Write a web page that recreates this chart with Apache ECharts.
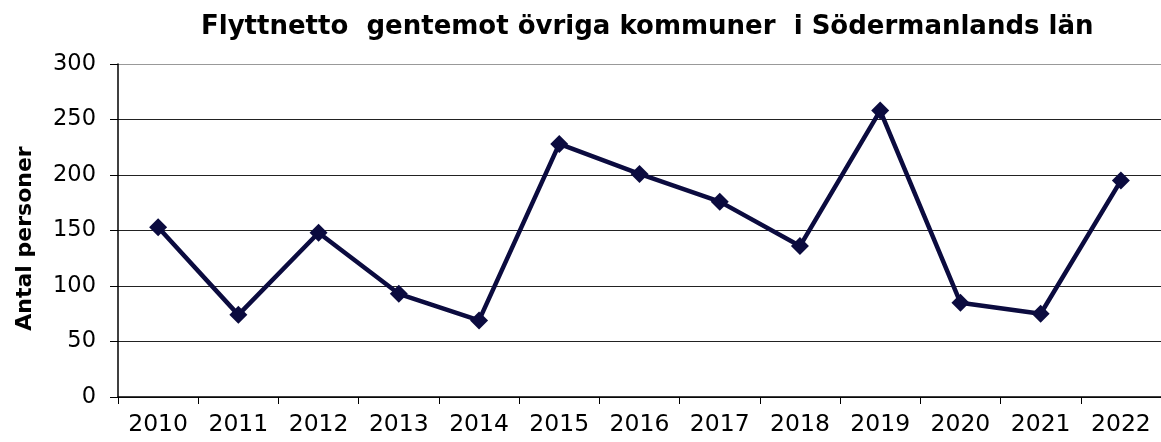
<!DOCTYPE html>
<html style="height: 100%;">
   <head>
       <meta charset="utf-8">
   </head>
   <body style="height: 100%; margin: 0; background-color: #fff;">
       <div id="container" style="width: 1161px; height: 442px;"></div>

       <script type="text/javascript" src="https://cdn.jsdelivr.net/npm/echarts@6/dist/echarts.min.js"></script>
       <script type="text/javascript">
var years = ['2010', '2011', '2012', '2013', '2014', '2015', '2016', '2017', '2018', '2019', '2020', '2021', '2022'];
var flyttnetto = [153, 74, 148, 93, 69, 228, 201, 176, 136, 258, 85, 75, 195];
var yTicks = [0, 50, 100, 150, 200, 250, 300];

var dom = document.getElementById("container");
var myChart = echarts.init(dom);
var option = {
    animation: false,
    title: {
        text: 'Flyttnetto  gentemot övriga kommuner  i Södermanlands län',
        left: 196,
        top: 9,
        textStyle: {
            color: '#000',
            fontFamily: 'DejaVu Sans',
            fontWeight: 'bold',
            fontSize: 26
        }
    },
    grid: {
        left: 118,
        top: 64,
        width: 1048,
        height: 333
    },
    xAxis: {
        type: 'category',
        data: years,
        boundaryGap: true,
        axisLine: { lineStyle: { color: '#000', width: 1.5 } },
        axisTick: { show: true, length: 7, lineStyle: { color: '#000' } },
        axisLabel: {
            color: '#000',
            fontFamily: 'DejaVu Sans',
            fontSize: 23.5,
            margin: 16
        }
    },
    yAxis: {
        type: 'value',
        min: yTicks[0],
        max: yTicks[yTicks.length - 1],
        interval: 50,
        name: 'Antal personer',
        nameLocation: 'middle',
        nameGap: 82,
        nameRotate: 90,
        nameTextStyle: {
            color: '#000',
            fontFamily: 'DejaVu Sans',
            fontWeight: 'bold',
            fontSize: 22,
            padding: [0, 0, 0, -16]
        },
        axisLine: { show: true, lineStyle: { color: '#000', width: 1.5 } },
        axisTick: { show: true, length: 8, lineStyle: { color: '#000' } },
        axisLabel: {
            color: '#000',
            fontFamily: 'DejaVu Sans',
            fontSize: 22.5,
            margin: 22
        },
        splitLine: {
            show: true,
            lineStyle: {
                color: ['#222', '#222', '#222', '#222', '#222', '#222', '#999'],
                width: 1.2
            }
        }
    },
    series: [
        {
            type: 'line',
            data: flyttnetto,
            symbol: 'diamond',
            symbolSize: 18,
            lineStyle: { color: '#0b0b3f', width: 4.5 },
            itemStyle: { color: '#0b0b3f' }
        }
    ]
};
myChart.setOption(option, true);
       </script>
   </body>
</html>
